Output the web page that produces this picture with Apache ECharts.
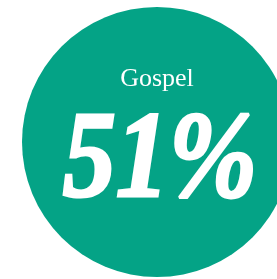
<!DOCTYPE html>
<html>
<head>
<meta charset="utf-8">
<style>
  html, body { margin: 0; padding: 0; background: #ffffff; }
  #chart { width: 277px; height: 279px; }
</style>
<script src="https://cdn.jsdelivr.net/npm/echarts@6/dist/echarts.min.js"></script>
</head>
<body>
<div id="chart"></div>
<script>
// data
var categories = ['Gospel'];
var shares = [51];
var colors = ['#04a386'];

var chart = echarts.init(document.getElementById('chart'));
chart.setOption({
  animation: false,
  series: [{
    type: 'pie',
    center: [157, 142],
    radius: [0, 135],
    silent: true,
    data: categories.map(function (name, i) {
      return { name: name, value: shares[i], itemStyle: { color: colors[i] } };
    }),
    label: { show: false },
    labelLine: { show: false }
  }],
  // big centred caption: category name + share, the number squeezed a bit
  graphic: [{
    type: 'text',
    x: 157,
    y: 79,
    z: 100,
    silent: true,
    style: {
      text: categories[0],
      fill: '#ffffff',
      font: '26px "Liberation Serif"',
      textAlign: 'center',
      textVerticalAlign: 'middle'
    }
  }, {
    type: 'text',
    x: 160,
    y: 164,
    z: 100,
    scaleX: 0.87,
    silent: true,
    style: {
      text: shares[0] + '%',
      fill: '#ffffff',
      stroke: '#ffffff',
      lineWidth: 3,
      font: 'italic bold 122px "Liberation Serif"',
      textAlign: 'center',
      textVerticalAlign: 'middle'
    }
  }]
});
</script>
</body>
</html>
